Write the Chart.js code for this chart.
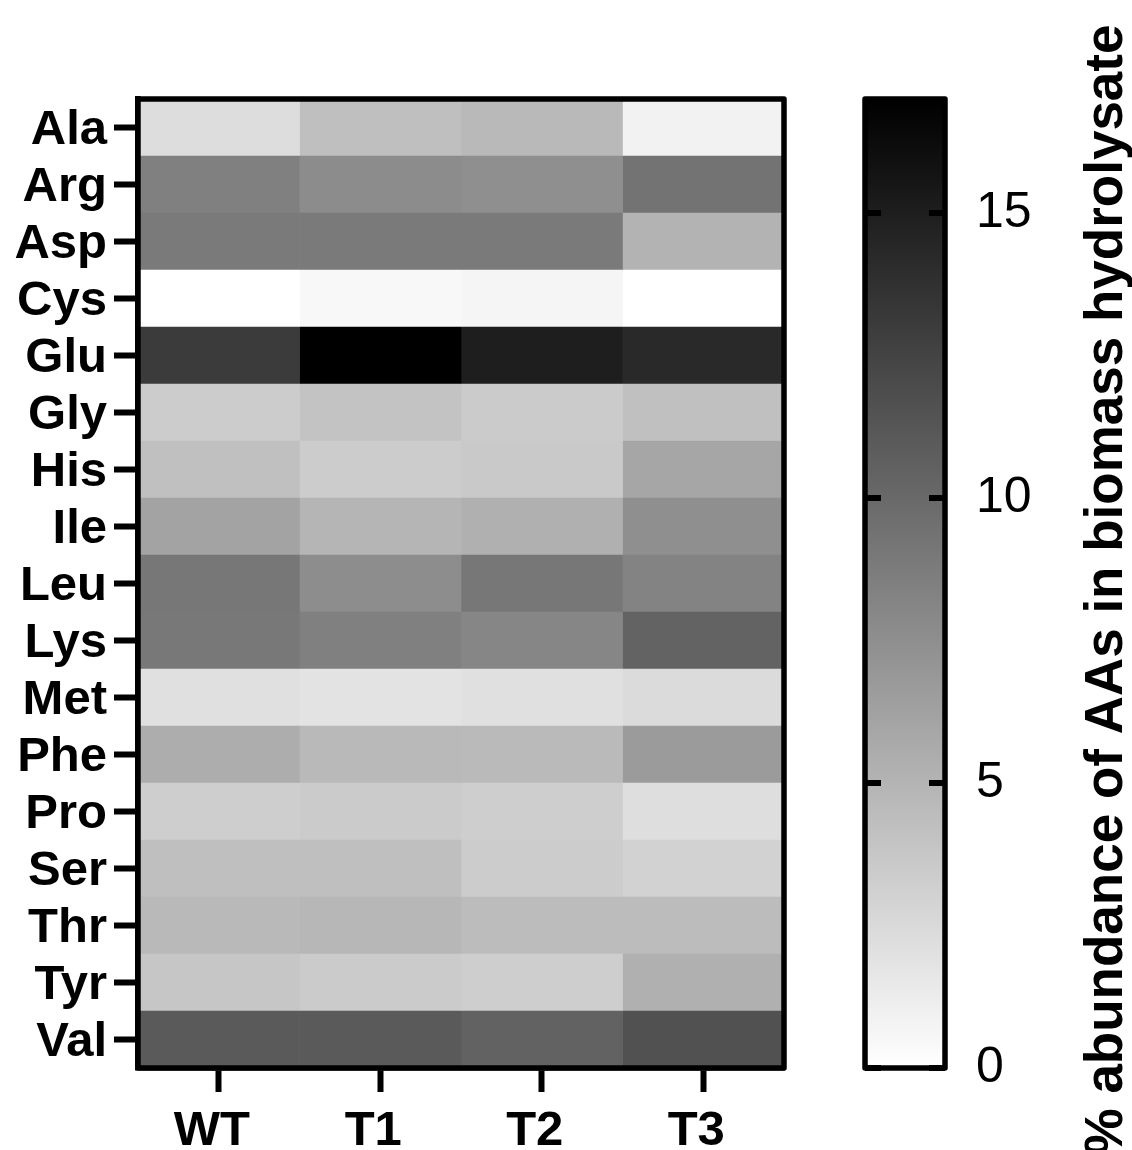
<!DOCTYPE html>
<html>
<head>
<meta charset="utf-8">
<title>Amino acid abundance heatmap</title>
<script src="https://cdn.jsdelivr.net/npm/chart.js@4.4.1/dist/chart.umd.min.js"></script>
<style>
  html, body { margin: 0; padding: 0; background: #fff; }
  #wrap { position: relative; width: 1132px; height: 1150px; overflow: hidden; }
  #heat { position: absolute; left: 0; top: 0; }
  #bar { position: absolute; left: 820px; top: 0; }
</style>
</head>
<body>
<div id="wrap">
  <canvas id="heat" width="820" height="1150"></canvas>
  <canvas id="bar" width="312" height="1150"></canvas>
</div>
<script>
// Rows and columns of the heatmap
const aminoAcids = ['Ala', 'Arg', 'Asp', 'Cys', 'Glu', 'Gly', 'His', 'Ile', 'Leu',
                    'Lys', 'Met', 'Phe', 'Pro', 'Ser', 'Thr', 'Tyr', 'Val'];
const groups = ['WT', 'T1', 'T2', 'T3'];

// % abundance of each amino acid per strain
const wt = [2.3, 8.5, 8.9, 0.0, 13.1, 3.4, 4.2, 6.1, 9.1, 9.0, 2.1, 5.5, 3.3, 4.3, 4.7, 3.8, 11.0];
const t1 = [4.3, 7.7, 8.9, 0.5, 17.0, 4.0, 3.4, 4.9, 7.6, 8.5, 1.9, 4.7, 3.5, 4.3, 4.8, 3.5, 11.0];
const t2 = [4.7, 7.5, 8.9, 0.7, 15.0, 3.5, 3.6, 5.3, 9.1, 8.1, 2.1, 4.6, 3.3, 3.4, 4.5, 3.3, 10.5];
const t3 = [0.9, 9.3, 5.1, 0.0, 14.3, 4.2, 5.9, 7.5, 8.3, 10.4, 2.4, 6.7, 2.2, 3.0, 4.5, 5.3, 11.6];

// Colour scale
const scaleTicks = [0, 5, 10, 15];
const scaleMin = 0;
const scaleMax = 17;
const scaleTitle = '% abundance of AAs in biomass hydrolysate';

const columns = [wt, t1, t2, t3];
const FONT = "'Liberation Sans', Arial, Helvetica, sans-serif";

// white (low) to black (high) grey ramp
function shade(v) {
  const t = Math.min(1, Math.max(0, (v - scaleMin) / (scaleMax - scaleMin)));
  const g = Math.round(255 * (1 - t));
  return 'rgb(' + g + ',' + g + ',' + g + ')';
}

// black frame round the plotting area
const framePlugin = {
  id: 'frame',
  afterDraw(chart) {
    const { ctx, chartArea: a } = chart;
    ctx.save();
    ctx.strokeStyle = '#000';
    ctx.lineWidth = 5.5;
    ctx.lineJoin = 'round';
    ctx.strokeRect(a.left, a.top, a.right - a.left, a.bottom - a.top);
    ctx.restore();
  }
};

// one floating bar per cell: column c spans [c, c + 1] on the x scale
const heatDatasets = groups.map((name, c) => ({
  label: name,
  data: aminoAcids.map(() => [c, c + 1]),
  backgroundColor: (ctx) => shade(columns[c][ctx.dataIndex]),
  borderWidth: 0,
  barPercentage: 1,
  categoryPercentage: 1,
  grouped: false
}));

new Chart(document.getElementById('heat'), {
  type: 'bar',
  data: { labels: aminoAcids, datasets: heatDatasets },
  options: {
    indexAxis: 'y',
    responsive: false,
    animation: false,
    devicePixelRatio: 1,
    layout: { padding: { top: 99, right: 36, left: 0, bottom: 0 } },
    plugins: { legend: { display: false }, tooltip: { enabled: false } },
    scales: {
      x: {
        type: 'linear',
        min: 0,
        max: groups.length,
        afterBuildTicks: (s) => { s.ticks = groups.map((g, i) => ({ value: i + 0.5 })); },
        afterFit: (s) => { s.height = 82; },
        grid: { drawOnChartArea: false, tickLength: 24, tickWidth: 6, tickColor: '#000' },
        border: { color: '#000', width: 5.5 },
        ticks: {
          callback: (v, i) => groups[i],
          font: { family: FONT, size: 49, weight: 'bold' },
          color: '#000',
          padding: 10,
          labelOffset: -7,
          maxRotation: 0,
          autoSkip: false
        }
      },
      y: {
        type: 'category',
        afterFit: (s) => { s.width = 138; },
        grid: { offset: false, drawOnChartArea: false, tickLength: 24, tickWidth: 6, tickColor: '#000' },
        border: { color: '#000', width: 5.5 },
        ticks: {
          font: { family: FONT, size: 49, weight: 'bold' },
          color: '#000',
          padding: 7,
          labelOffset: 3,
          autoSkip: false
        }
      }
    }
  },
  plugins: [framePlugin]
});

// colour bar: inward tick marks, frame and rotated title
const colorbarPlugin = {
  id: 'colorbarDecor',
  afterDraw(chart) {
    const { ctx, chartArea: a } = chart;
    const ys = chart.scales.y;
    ctx.save();
    ctx.strokeStyle = '#000';
    ctx.lineWidth = 6;
    scaleTicks.forEach((v) => {
      const y = ys.getPixelForValue(v);
      ctx.beginPath();
      ctx.moveTo(a.left, y); ctx.lineTo(a.left + 16, y);
      ctx.moveTo(a.right - 16, y); ctx.lineTo(a.right, y);
      ctx.stroke();
    });
    ctx.lineWidth = 5.5;
    ctx.lineJoin = 'round';
    ctx.strokeRect(a.left, a.top, a.right - a.left, a.bottom - a.top);

    ctx.translate(302, 590);
    ctx.rotate(-Math.PI / 2);
    ctx.fillStyle = '#000';
    ctx.font = 'bold 53px ' + FONT;
    ctx.textAlign = 'center';
    ctx.textBaseline = 'alphabetic';
    ctx.fillText(scaleTitle, 0, 0);
    ctx.restore();
  }
};

new Chart(document.getElementById('bar'), {
  type: 'bar',
  data: {
    labels: [''],
    datasets: [{
      data: [[scaleMin, scaleMax]],
      backgroundColor: (ctx) => {
        const a = ctx.chart.chartArea;
        if (!a) return '#888';
        const g = ctx.chart.ctx.createLinearGradient(0, a.bottom, 0, a.top);
        g.addColorStop(0, shade(scaleMin));
        g.addColorStop(1, shade(scaleMax));
        return g;
      },
      borderWidth: 0,
      barPercentage: 1,
      categoryPercentage: 1
    }]
  },
  options: {
    responsive: false,
    animation: false,
    devicePixelRatio: 1,
    layout: { padding: { top: 99, bottom: 82, left: 45, right: 0 } },
    plugins: { legend: { display: false }, tooltip: { enabled: false } },
    scales: {
      x: { display: false },
      y: {
        position: 'right',
        min: scaleMin,
        max: scaleMax,
        afterBuildTicks: (s) => { s.ticks = scaleTicks.map((v) => ({ value: v })); },
        afterFit: (s) => { s.width = 187; },
        grid: { display: false, drawTicks: false },
        border: { display: false },
        ticks: {
          font: { family: FONT, size: 50 },
          color: '#000',
          padding: 31
        }
      }
    }
  },
  plugins: [colorbarPlugin]
});
</script>
</body>
</html>
